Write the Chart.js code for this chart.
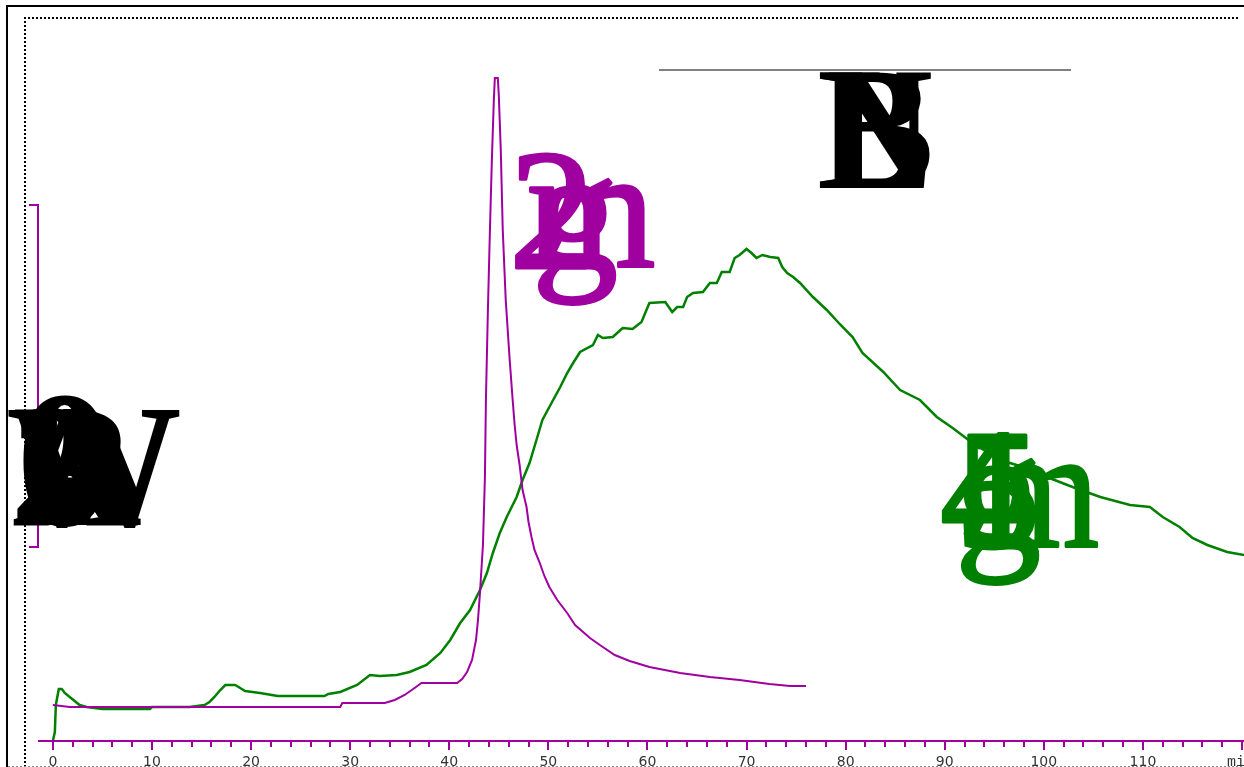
<!DOCTYPE html>
<html lang="en">
<head>
    <meta charset="UTF-8">
    <title>Chromatogram</title>
    <style>
        html, body { margin: 0; padding: 0; background: #fff; }
        #wrap { width: 1244px; height: 767px; position: relative; }
    </style>
</head>
<body>
    <div id="wrap">
        <canvas id="myChart"></canvas>
    </div>

    <script src="https://cdn.jsdelivr.net/npm/chart.js"></script>

    <script>
    // time (min) and signal for the purple trace
    const purpleTime = [0, 1.7, 29.0, 29.2, 33.5, 34.5, 35.5, 36.5, 37.2, 40.8, 41.3, 41.8, 42.3, 42.7, 42.9, 43.1, 43.4, 43.6, 43.7, 43.9, 44.1, 44.3, 44.5, 44.6, 44.9, 45.0, 45.2, 45.4, 45.7, 46.1, 46.4, 46.6, 46.8, 47.1, 47.4, 47.8, 48.0, 48.3, 48.6, 49.1, 49.6, 50.1, 50.9, 51.9, 52.7, 54.2, 55.2, 56.7, 58.2, 60.2, 63.3, 66.3, 69.3, 72.3, 74.4, 76.0]
    const purpleSignal = [36, 34, 34, 38, 38, 41, 46, 53, 58, 58, 62, 69, 81, 101, 121, 148, 196, 264, 341, 431, 509, 581, 641, 663, 663, 646, 591, 511, 441, 381, 341, 316, 296, 276, 251, 234, 219, 204, 191, 179, 165, 154, 141, 128, 116, 103, 96, 86, 80, 74, 68, 64, 61, 57, 55, 55]

    // time (min) and signal for the green trace
    const greenTime = [0, 0.2, 0.3, 0.6, 0.9, 1.2, 1.7, 2.2, 2.7, 3.4, 5.0, 9.8, 10.0, 13.8, 15.3, 15.8, 16.3, 16.9, 17.4, 18.4, 18.9, 19.4, 20.9, 22.7, 27.4, 27.8, 29.0, 30.7, 32.0, 33.0, 34.7, 36.0, 37.7, 39.1, 40.1, 41.1, 42.1, 43.1, 43.8, 44.4, 45.1, 45.8, 46.8, 47.4, 48.1, 48.8, 49.4, 50.1, 51.2, 51.9, 52.5, 53.2, 54.5, 55.0, 55.5, 56.5, 57.5, 58.5, 59.4, 59.9, 60.2, 61.8, 62.5, 63.0, 63.6, 64.0, 64.6, 65.6, 66.3, 67.0, 67.5, 68.3, 68.8, 69.3, 70.0, 70.5, 71.0, 71.6, 72.4, 73.2, 73.6, 74.1, 74.7, 75.4, 76.7, 78.1, 79.4, 80.7, 81.7, 83.8, 85.5, 87.5, 89.2, 90.8, 92.8, 95.6, 97.9, 100.3, 102.9, 105.7, 108.7, 110.7, 112.0, 113.7, 115.0, 116.5, 118.5, 120.2]
    const greenSignal = [0, 9, 36, 52, 52, 48, 44, 40, 36, 34, 32, 32, 34, 34, 36, 39, 44, 51, 56, 56, 53, 50, 48, 45, 45, 47, 49, 56, 66, 65, 66, 69, 76, 88, 101, 118, 131, 151, 168, 188, 208, 224, 244, 261, 278, 301, 321, 334, 354, 368, 378, 389, 396, 406, 403, 404, 413, 412, 419, 431, 438, 439, 429, 434, 434, 444, 448, 449, 458, 458, 469, 469, 483, 486, 492, 488, 483, 486, 484, 483, 474, 468, 464, 458, 444, 431, 417, 404, 388, 369, 351, 341, 324, 313, 298, 281, 274, 264, 254, 244, 236, 234, 224, 214, 203, 196, 189, 186]

    // x axis labels and unit
    const xTickLabels = [0, 10, 20, 30, 40, 50, 60, 70, 80, 90, 100, 110]
    const xUnit = 'mi'

    // purple scale bar ends (signal units)
    const scaleBar = [194, 536]

    // overlapping glyph labels
    const purpleGlyphs = ['2', 'm', 'g']
    const greenGlyphs = ['4', '5', 'g', 'm']
    const topGlyphs = ['L', 'N', 'B']
    const leftGlyphs = ['2', 'A', 'R', '0', 'W']

    const PURPLE = '#a000a0'
    const GREEN = '#008000'

    const decor = {
        id: 'decor',
        beforeDraw(chart) {
            const c = chart.ctx
            const W = chart.width, H = chart.height
            c.save()
            // outer solid frame
            c.strokeStyle = '#000'
            c.lineWidth = 2
            c.beginPath()
            c.moveTo(7, H)
            c.lineTo(7, 6)
            c.lineTo(W, 6)
            c.stroke()
            // dotted inner frame
            c.setLineDash([2, 2])
            c.beginPath()
            c.moveTo(25, H)
            c.lineTo(25, 18)
            c.lineTo(W - 4, 18)
            c.stroke()
            // bottom grey dashes
            c.strokeStyle = '#888'
            c.lineWidth = 1
            c.beginPath()
            c.moveTo(8, H - 0.5)
            c.lineTo(W, H - 0.5)
            c.stroke()
            c.setLineDash([])
            // grey line above top label
            c.strokeStyle = '#808080'
            c.lineWidth = 2
            c.beginPath()
            c.moveTo(659, 70)
            c.lineTo(1071, 70)
            c.stroke()
            c.restore()
        },
        afterDraw(chart) {
            const c = chart.ctx
            const xs = chart.scales.x, ys = chart.scales.y
            const area = chart.chartArea
            const y0 = ys.getPixelForValue(0)
            c.save()

            // x axis line and ticks
            c.strokeStyle = PURPLE
            c.lineWidth = 2
            c.beginPath()
            c.moveTo(area.left, y0)
            c.lineTo(area.right, y0)
            c.stroke()
            for (let v = 0; v <= xs.max; v += 2) {
                const px = Math.round(xs.getPixelForValue(v))
                const len = (v % 10 === 0) ? 9 : 6
                c.beginPath()
                c.moveTo(px, y0)
                c.lineTo(px, y0 + len)
                c.stroke()
            }

            // scale bar
            const sbTop = ys.getPixelForValue(scaleBar[1])
            const sbBot = ys.getPixelForValue(scaleBar[0])
            c.beginPath()
            c.moveTo(29, sbTop)
            c.lineTo(area.left, sbTop)
            c.lineTo(area.left, sbBot)
            c.lineTo(29, sbBot)
            c.stroke()

            // tick labels
            c.fillStyle = '#333'
            c.font = '14px "DejaVu Sans"'
            c.textAlign = 'center'
            c.textBaseline = 'alphabetic'
            xTickLabels.forEach(v => {
                c.fillText(String(v), xs.getPixelForValue(v), 766)
            })
            c.font = '15px "Liberation Mono"'
            c.textAlign = 'left'
            c.fillText(xUnit, 1227, 766)

            // big overlapping glyphs: [left, baseline, size, scaleX]
            const drawGlyphs = (glyphs, spots, color, weight, thick) => {
                c.fillStyle = color
                c.strokeStyle = color
                c.lineWidth = thick
                c.lineJoin = 'round'
                c.textAlign = 'left'
                glyphs.forEach((g, i) => {
                    const [x, y, size, sx] = spots[i]
                    c.save()
                    c.font = weight + ' ' + size + 'px "Liberation Serif"'
                    c.translate(x, y)
                    c.scale(sx, 1)
                    c.fillText(g, 0, 0)
                    if (thick > 0) c.strokeText(g, 0, 0)
                    c.restore()
                })
            }
            drawGlyphs(purpleGlyphs, [[509, 268, 172, 1], [527, 267, 172, 0.96], [532, 267, 172, 1]], PURPLE, 'normal', 3)
            drawGlyphs(greenGlyphs, [[940, 547, 172, 1], [955, 547, 172, 1], [955, 547, 172, 1], [984, 547, 172, 0.86]], GREEN, 'normal', 3)
            drawGlyphs(topGlyphs, [[817, 188, 176, 1], [826, 188, 176, 0.84], [817, 188, 176, 1]], '#000', 'bold', 0)
            drawGlyphs(leftGlyphs, [[10, 525, 176, 1], [12, 525, 176, 1], [12, 525, 176, 1], [16, 525, 196, 1], [6, 525, 176, 1]], '#000', 'bold', 0)

            c.restore()
        }
    }

    const ctx = document.getElementById('myChart')

    new Chart(ctx, {
        type: 'line',
        data: {
            datasets: [{
                data: purpleTime.map((t, i) => ({ x: t, y: purpleSignal[i] })),
                borderColor: PURPLE,
                borderWidth: 2,
                pointRadius: 0,
                tension: 0,
                fill: false
            }, {
                data: greenTime.map((t, i) => ({ x: t, y: greenSignal[i] })),
                borderColor: GREEN,
                borderWidth: 2.5,
                pointRadius: 0,
                tension: 0,
                fill: false
            }]
        },
        options: {
            responsive: true,
            maintainAspectRatio: false,
            animation: false,
            layout: { padding: { left: 38, right: 0, top: 18, bottom: 26 } },
            plugins: {
                legend: { display: false },
                tooltip: { enabled: false }
            },
            scales: {
                x: { type: 'linear', min: -1.5, max: 120.2, display: false },
                y: { min: 0, max: 723, display: false }
            }
        },
        plugins: [decor]
    })
    </script>
</body>
</html>
